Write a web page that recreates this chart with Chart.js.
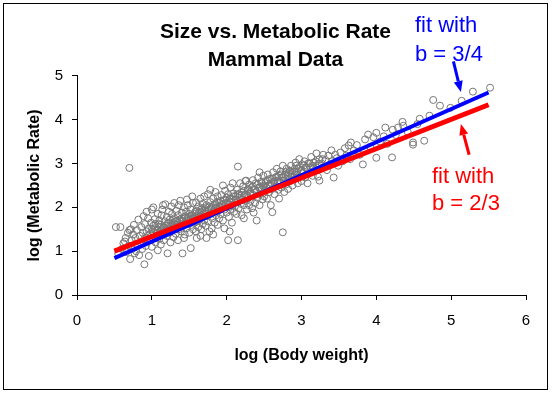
<!DOCTYPE html>
<html>
<head>
<meta charset="utf-8">
<script src="https://cdn.jsdelivr.net/npm/chart.js@4.4.1/dist/chart.umd.min.js"></script>
<style>
  html, body { margin: 0; padding: 0; background: #fff; }
  #wrap { width: 553px; height: 396px; }
</style>
</head>
<body>
<div id="wrap"><canvas id="rateChart" width="553" height="396"></canvas></div>
<script>
// log(body weight), log(metabolic rate) for each mammal
const mammals = [
  [0.52,1.55],[0.58,1.55],[0.55,0.95],[0.6,1.05],[0.62,1.18],[0.65,1.3],[0.66,0.98],[0.68,1.42],[0.7,2.9],[0.7,1.48],[0.71,0.82],[0.69,1.12],[0.64,1.22],
  [0.73,1.25],[0.74,1.05],[0.75,1.38],[0.76,1.6],[0.77,0.95],[0.78,1.3],[0.8,1.15],[0.8,1.48],[0.82,1.72],[0.83,0.91],[0.84,1.35],[0.85,1.2],[0.86,1.55],[0.87,1.05],[0.88,1.42],[0.89,1.8],[0.9,0.7],[0.9,1.28],[0.72,1.5],[0.79,1.0],
  [0.91,1.62],[0.92,1.12],[0.93,1.45],[0.94,1.35],[0.95,1.75],[0.96,0.89],[0.96,1.52],[0.97,1.25],[0.98,1.4],[0.99,1.65],[1.0,1.1],[1.0,1.5],[1.01,1.3],[1.02,2.0],[1.02,1.58],[1.03,1.42],[1.04,1.73],[1.05,1.2],[1.05,1.62],[1.06,1.35],[1.07,1.48],[1.08,1.85],[1.08,1.02],[1.09,1.55],[1.1,1.28],[1.1,1.7],[0.93,1.9],[1.0,1.95],
  [1.11,1.45],[1.12,1.6],[1.12,1.15],[1.13,1.82],[1.14,1.38],[1.15,1.52],[1.15,2.05],[1.16,1.25],[1.17,1.68],[1.18,2.07],[1.18,1.45],[1.19,1.58],[1.2,1.35],[1.2,1.78],[1.21,0.95],[1.21,1.62],[1.22,1.5],[1.23,1.9],[1.24,1.42],[1.24,1.72],[1.25,1.2],[1.26,1.58],[1.27,1.85],[1.27,1.48],[1.28,1.65],[1.29,1.32],[1.3,1.75],[1.3,2.1],[1.14,1.95],[1.26,2.02],
  [1.31,1.55],[1.32,1.68],[1.32,1.4],[1.33,1.92],[1.34,1.6],[1.35,1.25],[1.35,1.82],[1.36,1.5],[1.37,1.72],[1.38,2.15],[1.38,1.62],[1.39,1.45],[1.4,1.88],[1.41,0.95],[1.41,1.7],[1.42,1.58],[1.43,2.0],[1.44,1.78],[1.44,1.38],[1.45,1.65],[1.46,1.9],[1.46,1.52],[1.47,2.18],[1.48,1.75],[1.49,1.62],[1.5,1.85],[1.5,1.42],[1.36,2.05],[1.43,1.3],[1.48,2.05],
  [1.51,1.72],[1.52,1.07],[1.52,1.95],[1.53,1.6],[1.54,1.82],[1.55,1.5],[1.55,2.1],[1.56,1.75],[1.57,1.65],[1.58,1.9],[1.59,2.11],[1.59,1.45],[1.6,1.8],[1.61,1.68],[1.62,2.02],[1.62,1.55],[1.63,1.88],[1.64,1.72],[1.65,2.2],[1.65,1.35],[1.66,1.95],[1.67,1.78],[1.68,1.62],[1.68,2.08],[1.69,1.85],[1.7,1.7],[1.7,2.25],[1.54,2.25],[1.6,1.3],[1.66,1.5],
  [1.71,1.92],[1.72,1.58],[1.73,2.05],[1.74,1.8],[1.75,1.68],[1.75,2.3],[1.76,1.95],[1.77,1.45],[1.78,2.12],[1.79,1.85],[1.8,1.52],[1.8,2.0],[1.81,1.75],[1.82,2.2],[1.83,1.9],[1.84,1.65],[1.85,2.08],[1.85,2.35],[1.86,1.82],[1.87,1.98],[1.88,1.6],[1.88,2.25],[1.89,1.92],[1.9,2.1],[1.73,1.3],[1.82,1.38],[1.9,1.75],[1.78,2.4],
  [1.91,2.0],[1.92,1.85],[1.93,2.28],[1.94,2.05],[1.95,1.7],[1.96,2.15],[1.97,1.52],[1.97,1.95],[1.98,2.38],[1.99,2.1],[2.0,1.88],[2.0,2.22],[2.01,2.0],[2.02,1.25],[2.02,2.3],[2.03,1.78],[2.04,2.12],[2.05,2.45],[2.05,1.95],[2.06,2.2],[2.07,1.65],[2.08,2.05],[2.09,2.32],[2.1,2.15],[2.1,1.9],[1.95,2.5],[2.04,1.45],[2.08,2.55],
  [2.11,2.02],[2.12,2.25],[2.13,1.85],[2.14,2.4],[2.15,2.93],[2.15,1.25],[2.15,2.12],[2.16,1.98],[2.17,2.3],[2.18,2.55],[2.19,2.08],[2.2,1.82],[2.2,2.35],[2.21,2.18],[2.22,2.48],[2.23,1.75],[2.23,2.05],[2.24,2.28],[2.25,2.6],[2.26,2.61],[2.26,2.15],[2.27,1.95],[2.28,2.4],[2.29,2.22],[2.3,2.52],[2.3,2.05],
  [2.31,2.32],[2.32,2.15],[2.33,2.45],[2.34,1.98],[2.35,2.62],[2.36,2.28],[2.37,2.4],[2.38,2.1],[2.39,2.55],[2.4,1.7],[2.4,2.35],[2.41,2.22],[2.42,2.68],[2.43,2.45],[2.44,2.05],[2.45,2.3],[2.46,2.58],[2.47,2.4],[2.48,2.18],[2.49,2.72],[2.5,2.5],[2.5,2.25],[2.36,1.88],[2.44,2.8],
  [2.51,2.38],[2.52,2.6],[2.53,2.45],[2.54,2.2],[2.55,2.75],[2.56,2.5],[2.57,2.35],[2.58,2.65],[2.59,2.05],[2.6,2.55],[2.61,1.89],[2.61,2.42],[2.62,2.8],[2.63,2.58],[2.64,2.3],[2.65,2.68],[2.66,2.48],[2.67,2.88],[2.68,2.6],[2.69,2.4],[2.7,2.72],[2.7,2.2],
  [2.71,2.55],[2.72,2.82],[2.73,2.45],[2.74,2.68],[2.75,1.43],[2.75,2.95],[2.76,2.6],[2.77,2.35],[2.78,2.75],[2.79,2.52],[2.8,2.88],[2.81,2.65],[2.82,2.42],[2.83,2.78],[2.84,2.84],[2.85,2.6],[2.86,2.95],[2.87,2.7],[2.88,2.5],[2.9,2.82],
  [2.91,2.65],[2.92,3.02],[2.93,2.95],[2.94,2.75],[2.95,2.55],[2.96,2.88],[2.97,3.1],[2.98,2.7],[2.99,2.82],[3.0,2.6],[3.01,2.98],[3.02,2.78],[3.04,3.05],[3.05,2.68],[3.06,2.9],[3.08,2.55],[3.09,3.0],[3.1,2.8],
  [3.12,2.92],[3.13,3.15],[3.15,2.72],[3.16,3.02],[3.18,2.85],[3.2,3.23],[3.21,2.95],[3.22,2.7],[3.24,2.61],[3.24,3.1],[3.26,2.88],[3.27,3.0],[3.29,3.2],[3.3,2.92],
  [3.32,3.08],[3.34,2.85],[3.36,3.18],[3.38,2.98],[3.4,3.3],[3.41,3.05],[3.43,2.68],[3.45,3.2],[3.47,3.12],[3.49,2.95],
  [3.52,3.25],[3.55,3.05],[3.58,3.35],[3.6,3.18],[3.63,3.41],[3.66,3.48],[3.65,3.1],[3.7,3.3],[3.74,3.42],[3.78,3.2],[3.82,2.98],[3.85,3.55],[3.89,3.66],[3.92,3.38],[3.96,3.6],[4.0,3.7],[4.0,3.13],
  [4.05,3.5],[4.1,3.62],[4.12,3.82],[4.15,3.45],[4.21,3.14],[4.22,3.77],[4.26,3.65],[4.29,3.82],[4.35,3.95],[4.36,3.86],[4.42,3.72],[4.49,3.48],[4.49,3.43],
  [4.55,3.9],[4.58,4.02],[4.64,3.52],[4.71,4.09],[4.76,4.45],[4.85,4.32],[4.99,4.27],[5.14,4.43],[5.29,4.64],[5.52,4.73],
  // dense core along the trend
  [1.01,1.45],[1.04,1.5],[1.07,1.42],[1.09,1.62],[1.13,1.5],[1.16,1.55],[1.19,1.48],[1.22,1.65],[1.25,1.55],[1.28,1.72],[1.31,1.62],[1.34,1.7],[1.37,1.58],[1.4,1.75],[1.42,1.68],[1.45,1.8],[1.47,1.7],[1.49,1.78],
  [1.52,1.8],[1.55,1.75],[1.57,1.85],[1.6,1.92],[1.62,1.8],[1.65,1.9],[1.67,1.98],[1.7,1.88],[1.72,2.0],[1.75,1.92],[1.77,2.02],[1.8,1.95],[1.83,2.05],[1.85,1.98],[1.87,2.12],[1.9,2.02],[1.92,2.15],[1.95,2.08],[1.98,2.18],
  [2.01,2.1],[2.04,2.2],[2.06,2.12],[2.09,2.25],[2.12,2.18],[2.15,2.3],[2.17,2.22],[2.2,2.28],[2.23,2.38],[2.26,2.3],[2.29,2.42],[2.32,2.35],[2.35,2.48],[2.38,2.4],[2.41,2.52],[2.44,2.45],[2.47,2.55],[2.49,2.48],
  [2.52,2.55],[2.55,2.62],[2.58,2.52],[2.61,2.65],[2.64,2.6],[2.67,2.7],[2.7,2.62],[2.73,2.75],[2.76,2.7],[2.79,2.8],[2.82,2.72],[2.85,2.82],[2.88,2.78],[2.91,2.88],[2.94,2.82],[2.97,2.92],[3.0,2.85],[3.03,2.95],[3.07,2.9],[3.11,3.0],[3.15,2.95],[3.19,3.05],[3.23,3.0],[3.28,3.1]
];

// end points of the two fitted lines
const fitX = [0.5, 5.5];
const fitB34 = [0.84, 4.62];
const fitB23 = [1.0, 4.34];

const xTicks = [0, 1, 2, 3, 4, 5, 6];
const yTicks = [0, 1, 2, 3, 4, 5];

const FONT = "'Liberation Sans', Arial, sans-serif";

// the text labels with arrows, arrows given in data units
const notes = [
  { color: '#0000ff', lines: ['fit with', 'b = 3/4'], x: 415, y: [32, 61], from: [5.03, 5.33], to: [5.13, 4.63] },
  { color: '#ff0000', lines: ['fit with', 'b = 2/3'], x: 432, y: [183, 210], from: [5.24, 3.2], to: [5.13, 3.9] }
];

const extras = {
  id: 'extras',
  afterDatasetsDraw(chart) {
    const c = chart.ctx;
    const xs = chart.scales.x, ys = chart.scales.y;
    c.save();
    // frame round the chart
    c.strokeStyle = '#000';
    c.lineWidth = 1;
    c.strokeRect(3.5, 3.5, 544, 386);
    notes.forEach(n => {
      c.fillStyle = n.color;
      c.font = '22px ' + FONT;
      c.textAlign = 'left';
      c.textBaseline = 'alphabetic';
      n.lines.forEach((t, i) => c.fillText(t, n.x, n.y[i]));
      const x1 = xs.getPixelForValue(n.from[0]), y1 = ys.getPixelForValue(n.from[1]);
      const x2 = xs.getPixelForValue(n.to[0]), y2 = ys.getPixelForValue(n.to[1]);
      const a = Math.atan2(y2 - y1, x2 - x1);
      const head = 11, half = 4.5;
      const bx = x2 - head * Math.cos(a), by = y2 - head * Math.sin(a);
      c.strokeStyle = n.color;
      c.lineWidth = 3;
      c.beginPath();
      c.moveTo(x1, y1);
      c.lineTo(bx, by);
      c.stroke();
      c.beginPath();
      c.moveTo(x2, y2);
      c.lineTo(bx - half * Math.sin(a), by + half * Math.cos(a));
      c.lineTo(bx + half * Math.sin(a), by - half * Math.cos(a));
      c.closePath();
      c.fill();
    });
    c.restore();
  }
};

const ctx = document.getElementById('rateChart').getContext('2d');

new Chart(ctx, {
  type: 'scatter',
  data: {
    datasets: [
      {
        label: 'b = 2/3',
        data: fitX.map((x, i) => ({ x: x, y: fitB23[i] })),
        showLine: true,
        borderColor: '#ff0000',
        borderWidth: 5,
        pointRadius: 0
      },
      {
        label: 'b = 3/4',
        data: fitX.map((x, i) => ({ x: x, y: fitB34[i] })),
        showLine: true,
        borderColor: '#0000ff',
        borderWidth: 4,
        pointRadius: 0
      },
      {
        label: 'Mammals',
        data: mammals.map(p => ({ x: p[0], y: p[1] })),
        pointRadius: 3.5,
        pointBorderWidth: 1,
        pointBorderColor: '#777777',
        pointBackgroundColor: 'rgba(0,0,0,0)'
      }
    ]
  },
  options: {
    responsive: false,
    animation: false,
    layout: { padding: { left: 25, right: 27, top: 18, bottom: 31 } },
    plugins: {
      legend: { display: false },
      tooltip: { enabled: false },
      title: {
        display: true,
        text: ['Size vs. Metabolic Rate', 'Mammal Data'],
        color: '#000',
        font: { family: FONT, size: 21, weight: 'bold', lineHeight: 1.33 },
        padding: { top: 0, bottom: 2 }
      }
    },
    scales: {
      x: {
        type: 'linear',
        min: 0,
        max: 6,
        afterBuildTicks: s => { s.ticks = xTicks.map(v => ({ value: v })); },
        afterFit: s => { s.height = 70; },
        grid: { drawOnChartArea: false, drawTicks: true, tickLength: 5, color: '#000' },
        border: { color: '#000', width: 1 },
        ticks: { color: '#000', padding: 12, font: { family: FONT, size: 15 } },
        title: {
          display: true,
          text: 'log (Body weight)',
          color: '#000',
          padding: 0,
          font: { family: FONT, size: 16, weight: 'bold' }
        }
      },
      y: {
        type: 'linear',
        min: 0,
        max: 5,
        afterBuildTicks: s => { s.ticks = yTicks.map(v => ({ value: v })); },
        afterFit: s => { s.width = 52; },
        grid: { drawOnChartArea: false, drawTicks: true, tickLength: 5, color: '#000' },
        border: { color: '#000', width: 1 },
        ticks: { color: '#000', padding: 9, font: { family: FONT, size: 15 } },
        title: {
          display: true,
          text: 'log (Metabolic Rate)',
          color: '#000',
          padding: 0,
          font: { family: FONT, size: 16, weight: 'bold' }
        }
      }
    }
  },
  plugins: [extras]
});
</script>
</body>
</html>
